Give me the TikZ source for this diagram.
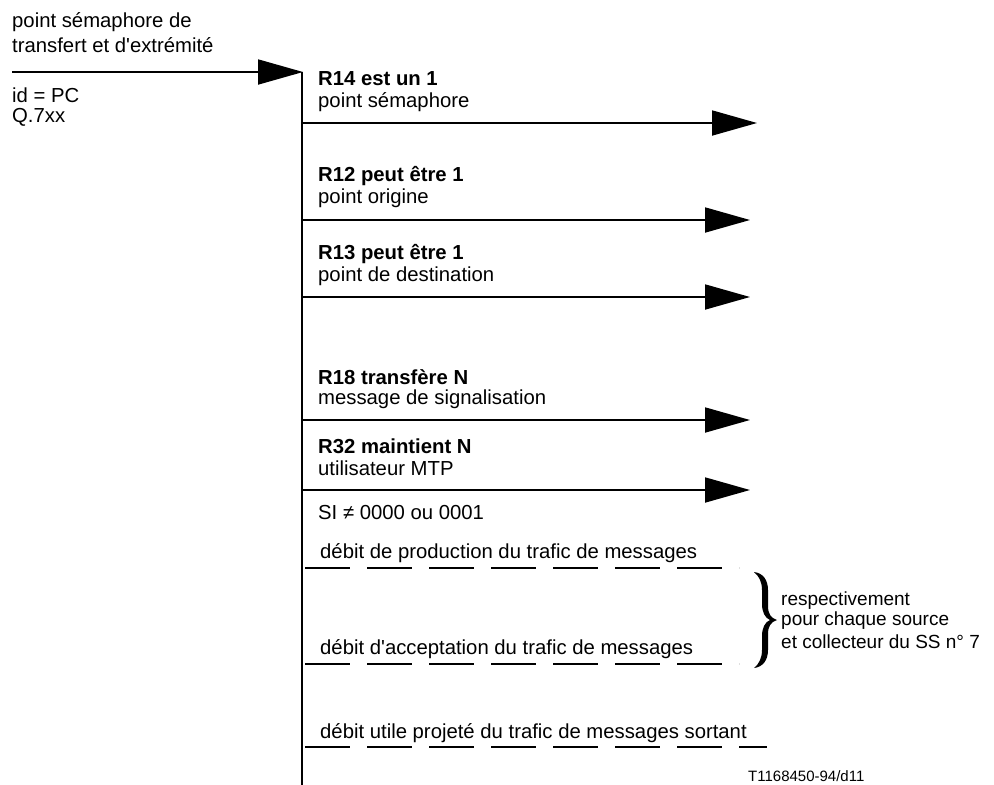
\documentclass[tikz,border=0pt]{standalone}
\usepackage{fontspec}
\setmainfont{Liberation Sans}
\usetikzlibrary{arrows.meta}
\begin{document}
\begin{tikzpicture}[x=1pt,y=-1pt,
  lbl/.style={anchor=west,inner sep=0pt,font=\fontsize{20.3}{24}\selectfont},
  blbl/.style={lbl,font=\fontsize{20.3}{24}\selectfont\bfseries},
  slbl/.style={lbl,font=\fontsize{19}{22}\selectfont},
  arr/.style={line width=1.8pt,-{Triangle[length=45pt,width=25pt]}},
  line/.style={line width=1.8pt},
  dsh/.style={line width=1.1pt,dash pattern=on 45pt off 17pt}]
\useasboundingbox (0,0) rectangle (994,785);
% main vertical line
\coordinate (vtop) at (302,72);
\coordinate (vbot) at (302,790);
\draw[line] (vtop) -- (vbot);
% incoming arrow
\coordinate (inS) at (12,72);
\coordinate (inE) at (303,72);
\draw[arr] (inS) -- (inE);
\node[lbl] (t1) at (12,22) {point sémaphore de};
\node[lbl] (t2) at (12,45) {transfert et d\textquotesingle extrémité};
\node[lbl] (t3) at (12,95) {id = PC};
\node[lbl] (t4) at (12,117) {Q.7xx};
% outgoing arrows
\foreach \n/\y/\e in {a/123/757,b/220/750,c/297/750,d/420/750,e/490/750}{
  \coordinate (\n s) at (302,\y);
  \coordinate (\n e) at (\e,\y);
  \draw[arr] (\n s) -- (\n e);
}
\node[blbl] (r14) at (318,79) {R14 est un 1};
\node[lbl] (r14b) at (318,102) {point sémaphore};
\node[blbl] (r12) at (318,176) {R12 peut être 1};
\node[lbl] (r12b) at (318,198) {point origine};
\node[blbl] (r13) at (318,254) {R13 peut être 1};
\node[lbl] (r13b) at (318,276) {point de destination};
\node[blbl] (r18) at (318,377) {R18 transfère N};
\node[lbl] (r18b) at (318,399) {message de signalisation};
\node[blbl] (r32) at (318,446) {R32 maintient N};
\node[lbl] (r32b) at (318,468) {utilisateur MTP};
\node[lbl] (si) at (318,513) {SI ≠ 0000 ou 0001};
% dashed lines
\node[lbl] (d1) at (320,553) {débit de production du trafic de messages};
\coordinate (d1s) at (305,568); \coordinate (d1e) at (739,568);
\draw[dsh] (d1s) -- (d1e);
\node[lbl] (d2) at (320,649) {débit d\textquotesingle acceptation du trafic de messages};
\coordinate (d2s) at (305,664); \coordinate (d2e) at (739,664);
\draw[dsh] (d2s) -- (d2e);
\node[lbl] (d3) at (320,733) {débit utile projeté du trafic de messages sortant};
\coordinate (d3s) at (305,747); \coordinate (d3e) at (767,747);
\draw[dsh] (d3s) -- (d3e);
% brace (filled, serif style)
\fill (754,572) .. controls (763,573) and (768,580) .. (768,590) -- (768,606)
  .. controls (768,614) and (771,618) .. (777,620)
  .. controls (771,622) and (768,626) .. (768,634) -- (768,650)
  .. controls (768,660) and (763,667) .. (754,668)
  .. controls (759,664) and (762,658) .. (762,650) -- (762,636)
  .. controls (762,628) and (765,622) .. (770,620)
  .. controls (765,618) and (762,612) .. (762,604) -- (762,590)
  .. controls (762,582) and (759,576) .. (754,572) -- cycle;
\node[slbl] (b1) at (781,601) {respectivement};
\node[slbl] (b2) at (781,621) {pour chaque source};
\node[slbl] (b3) at (781,642) {et collecteur du SS n° 7};
\node[lbl,font=\fontsize{15}{18}\selectfont] (ref) at (748,776) {T1168450-94/d11};
\end{tikzpicture}
\end{document}
